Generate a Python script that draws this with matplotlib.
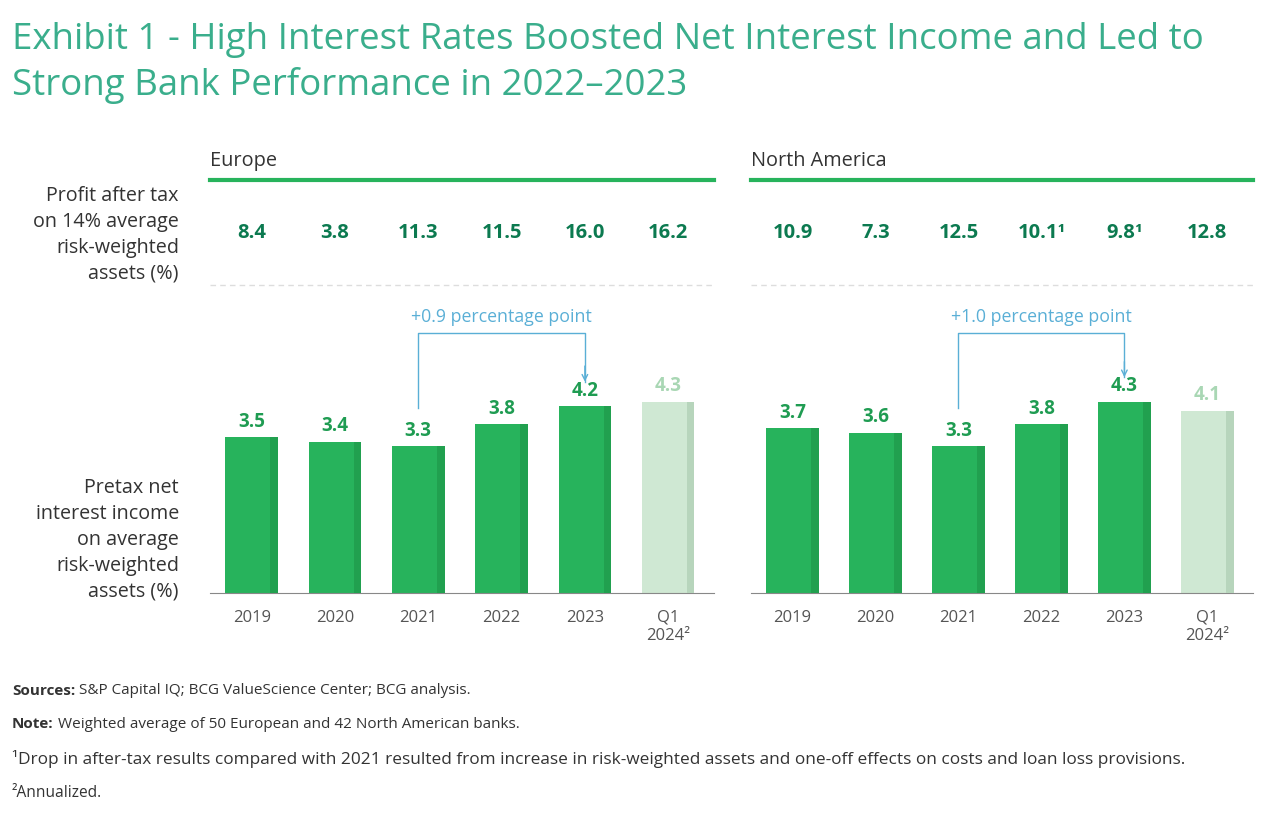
import matplotlib.pyplot as plt
from matplotlib.transforms import blended_transform_factory

plt.rcParams["font.family"] = ["Open Sans", "DejaVu Sans"]

periods = ["2019", "2020", "2021", "2022", "2023", "Q1\n2024²"]
regions = ["Europe", "North America"]
nii_europe = [3.5, 3.4, 3.3, 3.8, 4.2, 4.3]
nii_america = [3.7, 3.6, 3.3, 3.8, 4.3, 4.1]
profit_europe = ["8.4", "3.8", "11.3", "11.5", "16.0", "16.2"]
profit_america = ["10.9", "7.3", "12.5", "10.1¹", "9.8¹", "12.8"]
change_labels = ["+0.9 percentage point", "+1.0 percentage point"]

GREEN = "#27b35c"
GREEN_DARK = "#21a04f"
LIGHT = "#cfe8d3"
LIGHT_DARK = "#b7d5bc"
LABEL_GREEN = "#1f9c52"
LABEL_LIGHT = "#a9d7b4"
PROFIT_GREEN = "#0c7a50"
TITLE = "#3aae8c"
BLUE = "#5aafd6"
GRAY_TEXT = "#555555"
TEXT = "#333333"

fig = plt.figure(figsize=(12.8, 8.23), dpi=100)

fig.text(12 / 1280, 1 - 40 / 823,
         "Exhibit 1 - High Interest Rates Boosted Net Interest Income and Led to",
         fontsize=26.4, color=TITLE, va="center")
fig.text(12 / 1280, 1 - 85 / 823, "Strong Bank Performance in 2022–2023",
         fontsize=26.4, color=TITLE, va="center")

fig.text(179 / 1280, 1 - 235 / 823,
         "Profit after tax\non 14% average\nrisk-weighted\nassets (%)",
         ha="right", va="center", fontsize=14.2, color=TEXT, linespacing=1.4)
fig.text(179 / 1280, 1 - 540 / 823,
         "Pretax net\ninterest income\non average\nrisk-weighted\nassets (%)",
         ha="right", va="center", fontsize=14.2, color=TEXT, linespacing=1.4)

panels = [
    (210, 714, nii_europe, profit_europe, change_labels[0]),
    (751, 1253, nii_america, profit_america, change_labels[1]),
]
px_per_unit = 44.5
y_top = (593 - 180) / px_per_unit
x = list(range(len(periods)))

for (x0, x1, nii, profit, change), region in zip(panels, regions):
    ax = fig.add_axes([x0 / 1280, 1 - 593 / 823, (x1 - x0) / 1280, (593 - 180) / 823])
    ax.set_xlim(-0.5, 5.55)
    ax.set_ylim(0, y_top)
    colors = [GREEN] * 5 + [LIGHT]
    darks = [GREEN_DARK] * 5 + [LIGHT_DARK]
    ax.bar(x, nii, width=0.63, color=colors, zorder=2)
    ax.bar([i + 0.27 for i in x], nii, width=0.09, color=darks, zorder=3)
    for i, v in enumerate(nii):
        ax.text(i, v + 0.12, f"{v:.1f}", ha="center", va="bottom", fontsize=13.5,
                fontweight="bold", color=LABEL_LIGHT if i == 5 else LABEL_GREEN)

    trans = blended_transform_factory(ax.transData, ax.transAxes)
    for i, p in enumerate(profit):
        ax.text(i, 1 - 53 / 413, p, transform=trans, ha="center", va="center",
                fontsize=14.5, fontweight="bold", color=PROFIT_GREEN)

    ax.axhline(y_top, color=GREEN, lw=3, clip_on=False, zorder=4)
    ax.axhline((593 - 285) / px_per_unit, color="#dddddd", lw=1, ls=(0, (4, 3)))
    ax.text(0.0, 1 + 19 / 413, region, transform=ax.transAxes, va="center",
            fontsize=14.3, color=TEXT)

    # change bracket from 2021 to 2023
    start, end = nii[2], nii[4]
    top = 5.84
    ax.plot([2, 2, 4, 4], [start + 0.85, top, top, end + 0.55], color=BLUE, lw=1)
    ax.annotate("", xy=(4, end + 0.55), xytext=(4, end + 0.9),
                arrowprops=dict(arrowstyle="->", color=BLUE, lw=1,
                                shrinkA=0, shrinkB=0, mutation_scale=10))
    ax.text(3, top + 0.15, change, ha="center", va="bottom", fontsize=12.8,
            color=BLUE)

    for s in ["top", "left", "right"]:
        ax.spines[s].set_visible(False)
    ax.spines["bottom"].set_color("#888888")
    ax.set_yticks([])
    ax.set_xticks(x, periods)
    ax.tick_params(axis="x", length=0, pad=12, labelsize=12, labelcolor=GRAY_TEXT)

notes = [
    ("Sources:", "S&P Capital IQ; BCG ValueScience Center; BCG analysis.", 691, 11.0),
    ("Note:", "Weighted average of 50 European and 42 North American banks.", 724, 11.0),
    ("", "¹Drop in after-tax results compared with 2021 resulted from increase in "
         "risk-weighted assets and one-off effects on costs and loan loss provisions.",
     759, 12.4),
    ("", "²Annualized.", 793, 11.2),
]
for bold, rest, ypix, size in notes:
    if bold:
        t = fig.text(12 / 1280, 1 - ypix / 823, bold, fontsize=size,
                     fontweight="bold", color=TEXT, va="center")
        fig.add_artist(plt.Annotation(rest, xy=(1, 0.5), xycoords=t,
                                      xytext=(3, 0), textcoords="offset points",
                                      va="center", fontsize=size, color=TEXT))
    else:
        fig.text(12 / 1280, 1 - ypix / 823, rest, fontsize=size, color=TEXT,
                 va="center")

fig.savefig("out.png", dpi=100)
